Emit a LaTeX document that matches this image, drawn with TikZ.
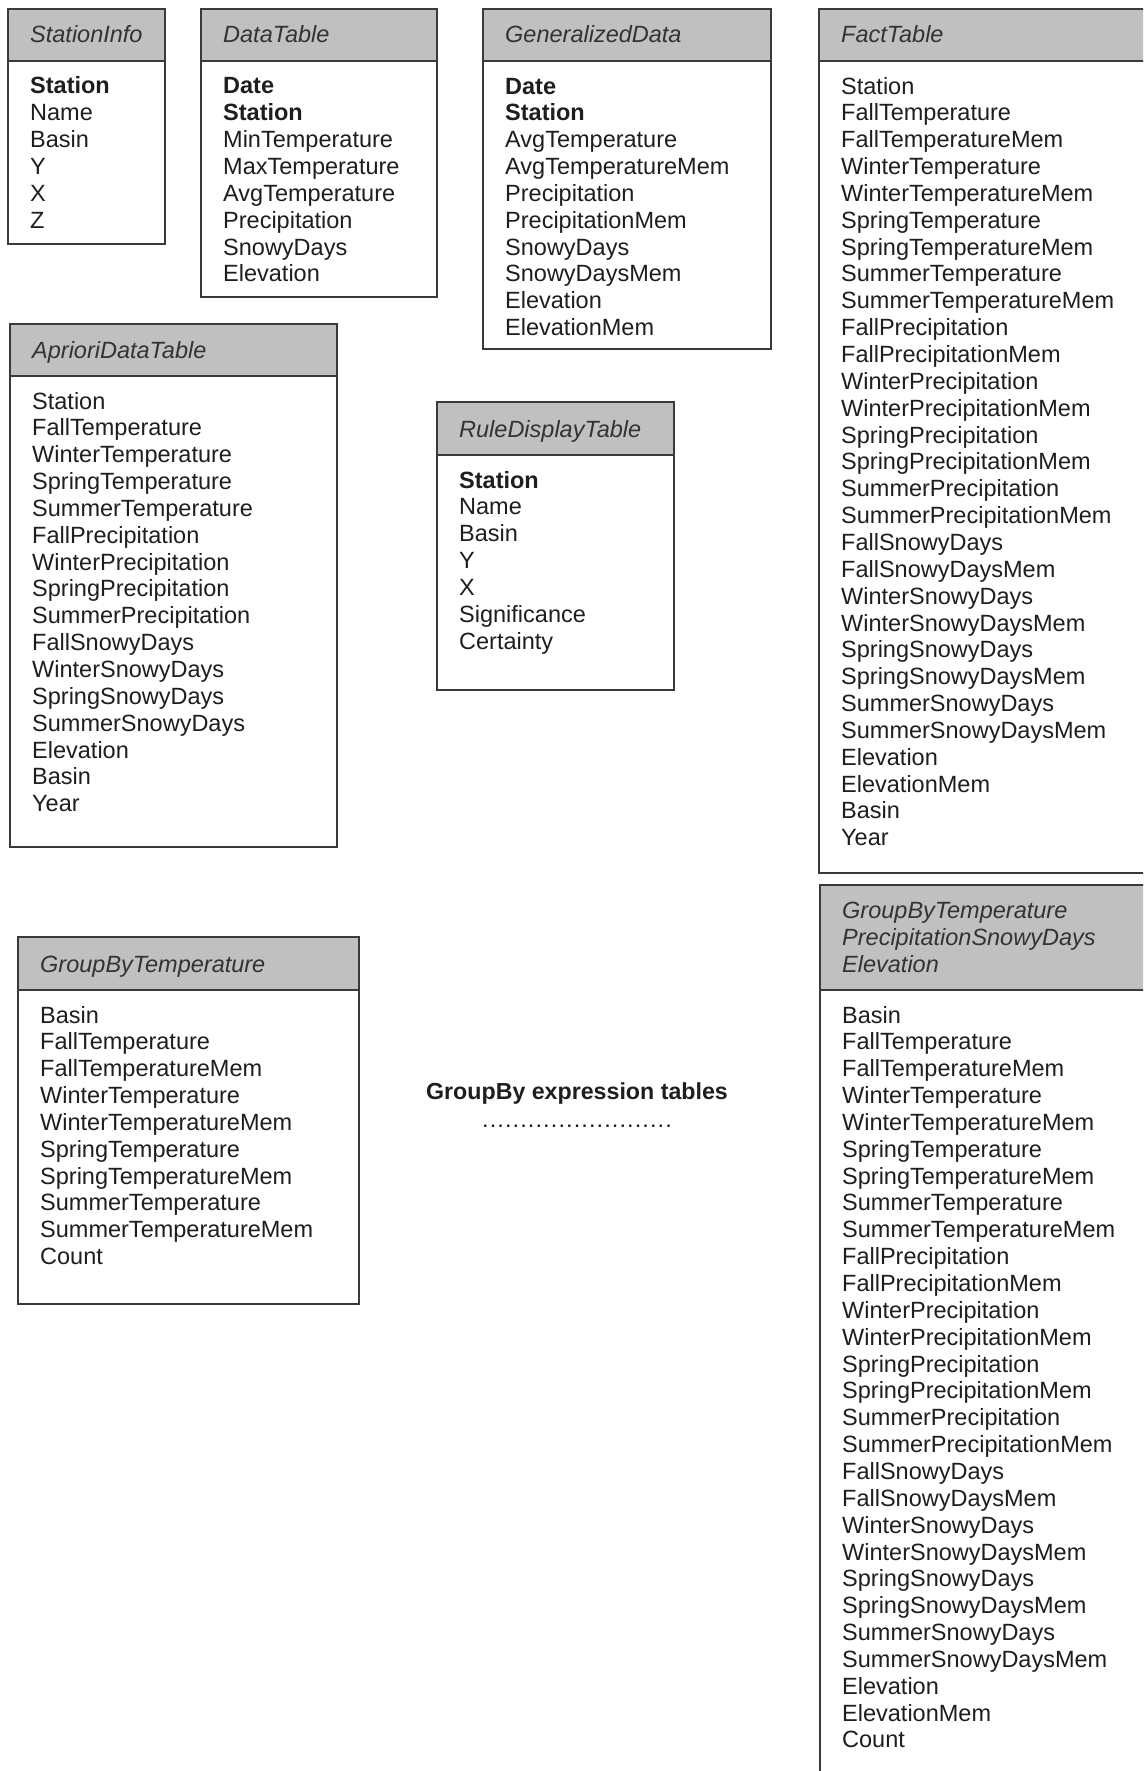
\documentclass[tikz,border=0pt]{standalone}
\usepackage{fontspec}
\setmainfont{Liberation Sans}
\definecolor{hdrgray}{HTML}{C0C0C0}
\definecolor{linegray}{HTML}{3A3A3A}
\definecolor{txt}{HTML}{1E1E1E}
\definecolor{ttltxt}{HTML}{333333}
\newcommand\rowfont{\fontsize{23.5}{26.85}\selectfont}
\newcommand\ttlfont{\fontsize{23.5}{27.3}\selectfont\itshape}
\newcommand\lblfont{\fontsize{23.2}{27}\selectfont\bfseries}
\newcommand\dd{.\kern1.1pt}
\tikzset{
  hdr/.style={fill=hdrgray},
  frame/.style={draw=linegray, line width=1.7pt},
  ttl/.style={anchor=base west, inner sep=0pt, align=left, font=\ttlfont, text=ttltxt},
  rows/.style={anchor=base west, inner sep=0pt, align=left, font=\rowfont, text=txt},
  lbl/.style={anchor=base, inner sep=0pt, font=\lblfont, text=txt},
}
% left, top, right, bottom, header bottom
\newcommand\dbbox[5]{%
  \fill[hdr] (#1,#2) rectangle (#3,#5);
  \draw[frame] (#1,#2) rectangle (#3,#4);
  \draw[frame] (#1,#5) -- (#3,#5);
}
% multi-line nodes are anchored at the baseline of their LAST line
\begin{document}
\begin{tikzpicture}[x=1pt,y=-1pt]
\useasboundingbox (0,0) rectangle (1143,1771);
\clip (0,0) rectangle (1143,1771);
\fill[white] (0,0) rectangle (1143,1771);

% StationInfo
\dbbox{8}{9}{165}{244}{61}
\node[ttl] (si-title) at (30,43) {StationInfo};
\node[rows] (si-rows) at (30,228.25) {\textbf{Station}\\Name\\Basin\\Y\\X\\Z};

% DataTable
\dbbox{201}{9}{437}{297}{61}
\node[ttl] (dt-title) at (223,43) {DataTable};
\node[rows] (dt-rows) at (223,281.95) {\textbf{Date}\\\textbf{Station}\\MinTemperature\\MaxTemperature\\AvgTemperature\\Precipitation\\SnowyDays\\Elevation};

% GeneralizedData
\dbbox{483}{9}{771}{349}{61}
\node[ttl] (gd-title) at (505,43) {GeneralizedData};
\node[rows] (gd-rows) at (505,335.65) {\textbf{Date}\\\textbf{Station}\\AvgTemperature\\AvgTemperatureMem\\Precipitation\\PrecipitationMem\\SnowyDays\\SnowyDaysMem\\Elevation\\ElevationMem};

% FactTable
\dbbox{819}{9}{1150}{873}{61}
\node[ttl] (ft-title) at (841,43) {FactTable};
\node[rows] (ft-rows) at (841,845.8) {Station\\FallTemperature\\FallTemperatureMem\\WinterTemperature\\WinterTemperatureMem\\SpringTemperature\\SpringTemperatureMem\\SummerTemperature\\SummerTemperatureMem\\FallPrecipitation\\FallPrecipitationMem\\WinterPrecipitation\\WinterPrecipitationMem\\SpringPrecipitation\\SpringPrecipitationMem\\SummerPrecipitation\\SummerPrecipitationMem\\FallSnowyDays\\FallSnowyDaysMem\\WinterSnowyDays\\WinterSnowyDaysMem\\SpringSnowyDays\\SpringSnowyDaysMem\\SummerSnowyDays\\SummerSnowyDaysMem\\Elevation\\ElevationMem\\Basin\\Year};

% AprioriDataTable
\dbbox{10}{324}{337}{847}{376}
\node[ttl] (ad-title) at (32,358) {AprioriDataTable};
\node[rows] (ad-rows) at (32,811.75) {Station\\FallTemperature\\WinterTemperature\\SpringTemperature\\SummerTemperature\\FallPrecipitation\\WinterPrecipitation\\SpringPrecipitation\\SummerPrecipitation\\FallSnowyDays\\WinterSnowyDays\\SpringSnowyDays\\SummerSnowyDays\\Elevation\\Basin\\Year};

% RuleDisplayTable
\dbbox{437}{402}{674}{690}{455}
\node[ttl] (rd-title) at (459,437) {RuleDisplayTable};
\node[rows] (rd-rows) at (459,649.1) {\textbf{Station}\\Name\\Basin\\Y\\X\\Significance\\Certainty};

% GroupByTemperature
\dbbox{18}{937}{359}{1304}{990}
\node[ttl] (gt-title) at (40,972) {GroupByTemperature};
\node[rows] (gt-rows) at (40,1264.65) {Basin\\FallTemperature\\FallTemperatureMem\\WinterTemperature\\WinterTemperatureMem\\SpringTemperature\\SpringTemperatureMem\\SummerTemperature\\SummerTemperatureMem\\Count};

% GroupByTemperaturePrecipitationSnowyDaysElevation
\dbbox{820}{885}{1150}{1790}{990}
\node[ttl] (ga-title) at (842,972.6) {GroupByTemperature\\PrecipitationSnowyDays\\Elevation};
\node[rows] (ga-rows) at (842,1747.95) {Basin\\FallTemperature\\FallTemperatureMem\\WinterTemperature\\WinterTemperatureMem\\SpringTemperature\\SpringTemperatureMem\\SummerTemperature\\SummerTemperatureMem\\FallPrecipitation\\FallPrecipitationMem\\WinterPrecipitation\\WinterPrecipitationMem\\SpringPrecipitation\\SpringPrecipitationMem\\SummerPrecipitation\\SummerPrecipitationMem\\FallSnowyDays\\FallSnowyDaysMem\\WinterSnowyDays\\WinterSnowyDaysMem\\SpringSnowyDays\\SpringSnowyDaysMem\\SummerSnowyDays\\SummerSnowyDaysMem\\Elevation\\ElevationMem\\Count};

% label
\node[lbl] (gb-label) at (577,1099) {GroupBy expression tables};
\node[anchor=base, inner sep=0pt, font=\rowfont, text=txt] (gb-dots) at (577,1127)
  {\dd\dd\dd\dd\dd\dd\dd\dd\dd\dd\dd\dd\dd\dd\dd\dd\dd\dd\dd\dd\dd\dd\dd\dd.};
\end{tikzpicture}
\end{document}
